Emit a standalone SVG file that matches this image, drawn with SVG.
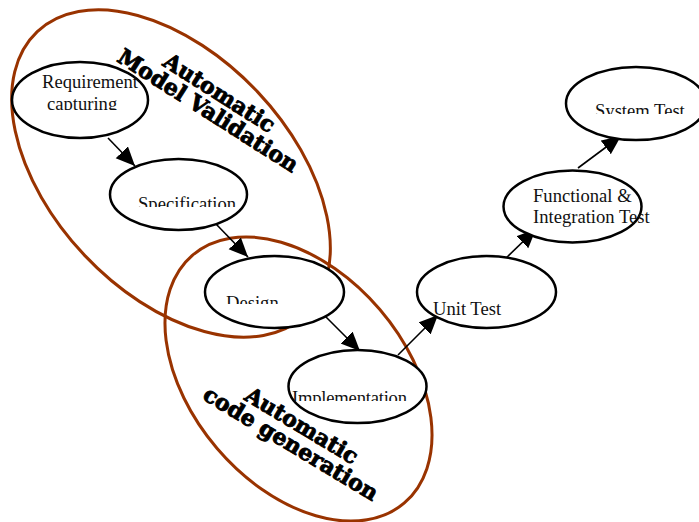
<svg xmlns="http://www.w3.org/2000/svg" width="699" height="522" viewBox="0 0 699 522">
  <style>
    .group { fill: none; stroke: #993300; stroke-width: 3; }
    .node ellipse { fill: #ffffff; stroke: #000000; stroke-width: 2.5; }
    .node text { font-family: "Liberation Serif", "Times New Roman", serif; font-size: 18.6px; fill: #111111; }
    .edge { stroke: #000000; stroke-width: 1.6; fill: none; marker-end: url(#head); }
    .banner { font-family: "DejaVu Serif", serif; font-weight: bold; font-size: 22px; fill: #000000; stroke: #000000; stroke-width: 0.9; stroke-linejoin: round; text-anchor: middle; }
  </style>
  <defs>
    <marker id="head" markerUnits="userSpaceOnUse" markerWidth="24" markerHeight="20" refX="19" refY="8.5" orient="auto">
      <path d="M0,0 L19,8.5 L0,17 Z" fill="#000000"/>
    </marker>
    <clipPath id="clip-req"><rect x="0" y="0" width="699" height="110"/></clipPath>
    <clipPath id="clip-spec"><rect x="0" y="0" width="699" height="207"/></clipPath>
    <clipPath id="clip-design"><rect x="0" y="0" width="699" height="304"/></clipPath>
    <clipPath id="clip-impl"><rect x="0" y="0" width="699" height="401"/></clipPath>
    <clipPath id="clip-sys"><rect x="0" y="0" width="699" height="114"/></clipPath>
  </defs>

  <!-- grouping outlines -->
  <g id="groups">
    <ellipse id="model-validation-area" class="group" cx="171" cy="173.5" rx="195" ry="119" transform="rotate(46.7 171 173.5)"/>
    <ellipse id="code-generation-area" class="group" cx="298.5" cy="379" rx="163" ry="107" transform="rotate(49.5 298.5 379)"/>
  </g>

  <!-- connectors -->
  <g id="connectors">
    <line class="edge" x1="108" y1="138" x2="135" y2="166"/>
    <line class="edge" x1="215" y1="223" x2="248" y2="257"/>
    <line class="edge" x1="322" y1="313" x2="360" y2="351"/>
    <line class="edge" x1="398" y1="355" x2="438" y2="315"/>
    <line class="edge" x1="502" y1="262" x2="536" y2="229"/>
    <line class="edge" x1="578" y1="168" x2="621" y2="136"/>
  </g>

  <!-- process steps -->
  <g id="requirement" class="node">
    <ellipse cx="80" cy="100" rx="68" ry="38"/>
    <g clip-path="url(#clip-req)">
      <text x="42" y="88">Requirement</text>
      <text x="47" y="110">capturing</text>
    </g>
  </g>
  <g id="specification" class="node">
    <ellipse cx="178.5" cy="194.5" rx="68.5" ry="35.5"/>
    <text x="138" y="210" clip-path="url(#clip-spec)">Specification</text>
  </g>
  <g id="design" class="node">
    <ellipse cx="274.5" cy="292" rx="69.5" ry="36"/>
    <text x="226" y="309" clip-path="url(#clip-design)">Design</text>
  </g>
  <g id="implementation" class="node">
    <ellipse cx="357.5" cy="386.5" rx="69" ry="36.5"/>
    <text x="292" y="404" clip-path="url(#clip-impl)" textLength="115">Implementation</text>
  </g>
  <g id="unit-test" class="node">
    <ellipse cx="486.5" cy="292" rx="69.5" ry="36"/>
    <text x="433" y="315">Unit Test</text>
  </g>
  <g id="integration-test" class="node">
    <ellipse cx="572.5" cy="206.5" rx="69" ry="36"/>
    <text x="533" y="202">Functional &amp;</text>
    <text x="533" y="223">Integration Test</text>
  </g>
  <g id="system-test" class="node">
    <ellipse cx="636" cy="103.5" rx="70" ry="36.5"/>
    <text x="595" y="117" clip-path="url(#clip-sys)">System Test</text>
  </g>

  <!-- area captions -->
  <g id="caption-model-validation" transform="translate(204 117) rotate(32.5)">
    <text class="banner" x="0" y="-21">Automatic</text>
    <text class="banner" x="0" y="0">Model Validation</text>
  </g>
  <g id="caption-code-generation" transform="translate(287 450) rotate(31)">
    <text class="banner" x="0" y="-21">Automatic</text>
    <text class="banner" x="0" y="0">code generation</text>
  </g>
</svg>
